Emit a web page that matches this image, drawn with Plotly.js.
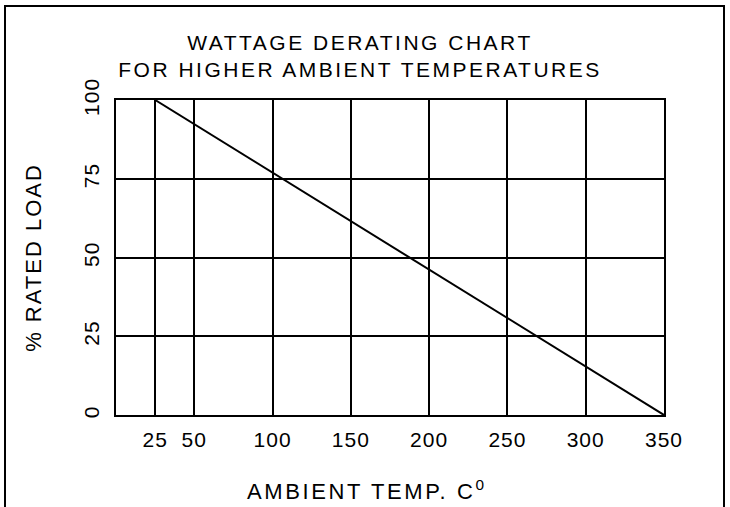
<!DOCTYPE html>
<html>
<head>
<meta charset="utf-8">
<script src="https://cdn.plot.ly/plotly-3.0.1.min.js"></script>
<style>
  html, body { margin: 0; padding: 0; background: #fff; }
  #chart { width: 730px; height: 507px; }
  .gtitle { letter-spacing: 2.5px; }
  .ytitle { letter-spacing: 2px; }
  .annotation-text { letter-spacing: 2.6px; }
  .xtick text, .ytick text { letter-spacing: 1px; }
</style>
</head>
<body>
<div id="chart"></div>
<script>
// Data
const titleLines = ["WATTAGE DERATING CHART", "FOR HIGHER AMBIENT TEMPERATURES"];
const xTitle = "AMBIENT TEMP. C<sup>0</sup>";
const yTitle = "% RATED LOAD";
const temps = [25, 350];
const ratedLoad = [100, 0];
const xTickVals = [25, 50, 100, 150, 200, 250, 300, 350];
const yTickVals = [0, 25, 50, 75, 100];

// Layout geometry (pixels)
const W = 730, H = 507;
const mL = 116, mR = 66, mT = 100, mB = 92;
const pw = W - mL - mR, ph = H - mT - mB;
const px2x = p => (p - mL) / pw;
const py2y = p => (H - mB - p) / ph;

const font = "Liberation Sans, Arial, Helvetica, sans-serif";

const trace = {
  x: temps, y: ratedLoad, type: "scatter", mode: "lines",
  line: { color: "#000", width: 2 }, hoverinfo: "skip", showlegend: false
};

const layout = {
  width: W, height: H,
  margin: { l: mL, r: mR, t: mT, b: mB, pad: 0 },
  paper_bgcolor: "#fff", plot_bgcolor: "#fff",
  font: { family: font, color: "#000", size: 20 },
  title: {
    text: titleLines.join("<br>"),
    font: { family: font, size: 21, color: "#000" },
    x: 360 / W, xanchor: "center", xref: "container",
    y: 1 - 50 / H, yanchor: "top", yref: "container"
  },
  xaxis: {
    range: [0, 350], tickvals: xTickVals, ticktext: xTickVals.map(String),
    showgrid: true, gridcolor: "#000", gridwidth: 2,
    showline: true, linecolor: "#000", linewidth: 2, mirror: true,
    ticks: "", zeroline: false, ticklabelstandoff: 5,
    tickfont: { family: font, size: 21, color: "#000" }
  },
  yaxis: {
    range: [0, 100], tickvals: yTickVals, ticktext: yTickVals.map(String),
    showgrid: true, gridcolor: "#000", gridwidth: 2,
    showline: true, linecolor: "#000", linewidth: 2, mirror: true,
    ticks: "", zeroline: false, tickangle: -90, ticklabelstandoff: 7,
    tickfont: { family: font, size: 21, color: "#000" },
    title: { text: yTitle, font: { family: font, size: 22, color: "#000" }, standoff: 32 }
  },
  annotations: [
    { text: xTitle, xref: "paper", yref: "paper", x: px2x(367), y: py2y(490),
      xanchor: "center", yanchor: "middle", showarrow: false,
      font: { family: font, size: 22, color: "#000" } }
  ],
  shapes: [
    { type: "rect", xref: "paper", yref: "paper",
      x0: px2x(5), x1: px2x(724), y0: py2y(515), y1: py2y(6),
      line: { color: "#000", width: 2 }, fillcolor: "rgba(0,0,0,0)", layer: "above" }
  ]
};

Plotly.newPlot("chart", [trace], layout, { staticPlot: true, displayModeBar: false });
</script>
</body>
</html>
